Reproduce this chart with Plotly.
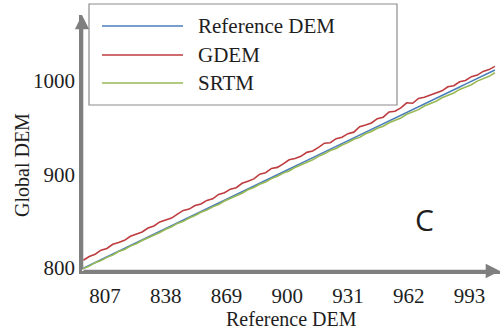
import plotly.graph_objects as go

# Reference DEM elevations along the sampled profile (m)
ref_x = [796, 799, 802, 805, 808, 811, 814, 817, 820, 823,
         826, 829, 832, 835, 838, 841, 844, 847, 850, 853,
         856, 859, 862, 865, 868, 871, 874, 877, 880, 883,
         886, 889, 892, 895, 898, 901, 904, 907, 910, 913,
         916, 919, 922, 925, 928, 931, 934, 937, 940, 943,
         946, 949, 952, 955, 958, 961, 964, 967, 970, 973,
         976, 979, 982, 985, 988, 991, 994, 997, 1000, 1003, 1006]

ref_dem = [799.8, 802.8, 805.9, 808.9, 811.9, 814.9, 818.0, 821.0, 824.0, 827.1,
           830.1, 833.1, 836.1, 839.2, 842.2, 845.2, 848.3, 851.3, 854.3, 857.3,
           860.4, 863.4, 866.4, 869.5, 872.5, 875.5, 878.5, 881.6, 884.6, 887.6,
           890.7, 893.7, 896.7, 899.7, 902.8, 905.8, 908.8, 911.9, 914.9, 917.9,
           920.9, 924.0, 927.0, 930.0, 933.1, 936.1, 939.1, 942.1, 945.2, 948.2,
           951.2, 954.3, 957.3, 960.3, 963.3, 966.4, 969.4, 972.4, 975.5, 978.5,
           981.5, 984.5, 987.6, 990.6, 993.6, 996.7, 999.7, 1002.7, 1005.7, 1008.8, 1011.8]

gdem = [808.3, 812.3, 814.7, 819.1, 820.9, 825.4, 827.4, 829.6, 834.0, 836.3,
        838.5, 842.7, 844.9, 849.3, 851.2, 853.4, 857.7, 861.6, 863.0, 866.8,
        868.5, 872.3, 874.0, 878.7, 880.5, 884.3, 885.9, 890.6, 892.9, 895.3,
        900.3, 901.9, 906.5, 907.6, 911.4, 915.8, 917.2, 919.4, 923.7, 925.1,
        929.0, 933.5, 934.0, 938.3, 939.9, 943.7, 945.3, 951.1, 953.0, 955.1,
        959.7, 961.3, 966.9, 967.6, 971.3, 976.7, 976.2, 981.3, 982.6, 985.0,
        987.5, 989.5, 993.8, 995.0, 999.2, 1000.6, 1004.7, 1006.3, 1010.3, 1012.2, 1015.6]

srtm = [799.5, 802.0, 805.7, 807.9, 811.4, 814.0, 817.6, 819.9, 823.4, 825.9,
        829.4, 832.1, 835.6, 837.9, 841.4, 844.1, 847.7, 849.9, 853.4, 856.1,
        859.7, 862.1, 865.4, 867.9, 871.6, 874.1, 877.4, 879.9, 883.6, 886.1,
        889.5, 891.9, 895.6, 898.1, 901.5, 903.8, 907.6, 910.2, 913.5, 915.8,
        919.4, 922.1, 925.7, 927.8, 931.5, 934.1, 937.6, 939.7, 943.5, 946.0,
        949.4, 951.7, 955.4, 958.0, 960.5, 964.4, 966.9, 969.4, 973.3, 975.8,
        978.3, 982.1, 984.6, 987.2, 991.0, 993.6, 996.1, 999.9, 1002.4, 1005.0, 1008.8]

x_ticks = [807, 838, 869, 900, 931, 962, 993]
y_ticks = [800, 900, 1000]

series_names = ["Reference DEM", "GDEM", "SRTM"]
series_colors = ["#4a7ebb", "#be3c3f", "#98b954"]
series_values = [ref_dem, gdem, srtm]

SERIF = "Liberation Serif"
AXIS_GRAY = "#7f7f7f"
TEXT = "#1e1e1e"

W, H = 504, 334
L, R, T, B = 82, 4, 15, 63
PW, PH = W - L - R, H - T - B


def px(xpix):
    return (xpix - L) / PW


def py(ypix):
    return (H - B - ypix) / PH


fig = go.Figure()
for name, color, vals in zip(series_names, series_colors, series_values):
    fig.add_trace(go.Scatter(x=ref_x, y=vals, mode="lines", name=name,
                             line=dict(color=color, width=1.6), showlegend=False))

shapes = []
annotations = []

# legend box drawn in paper space
shapes.append(dict(type="rect", xref="paper", yref="paper",
                   x0=px(89), x1=px(397), y0=py(105), y1=py(4),
                   line=dict(color="#8c8c8c", width=1.2), fillcolor="white", layer="above"))
for i, (name, color) in enumerate(zip(series_names, series_colors)):
    yrow = [26, 55, 83][i]
    shapes.append(dict(type="line", xref="paper", yref="paper",
                       x0=px(102), x1=px(183), y0=py(yrow), y1=py(yrow),
                       line=dict(color=color, width=1.6), layer="above"))
    annotations.append(dict(text=name, xref="paper", yref="paper",
                            x=px(196), y=py(yrow), xanchor="left", yanchor="middle",
                            showarrow=False, font=dict(family=SERIF, size=21, color=TEXT)))

# axis arrows
annotations.append(dict(x=0, y=1, xref="paper", yref="paper", ax=0, ay=PH,
                        axref="pixel", ayref="pixel", showarrow=True, text="",
                        arrowhead=2, arrowsize=1.1, arrowwidth=2.6, arrowcolor=AXIS_GRAY))
annotations.append(dict(x=1, y=0, xref="paper", yref="paper", ax=-PW, ay=0,
                        axref="pixel", ayref="pixel", showarrow=True, text="",
                        arrowhead=2, arrowsize=1.1, arrowwidth=2.6, arrowcolor=AXIS_GRAY))

# axis titles
annotations.append(dict(text="Reference DEM", xref="paper", yref="paper",
                        x=px(291), y=py(319), xanchor="center", yanchor="middle",
                        showarrow=False, font=dict(family=SERIF, size=20, color=TEXT)))
annotations.append(dict(text="Global DEM", xref="paper", yref="paper",
                        x=px(22), y=py(165), xanchor="center", yanchor="middle",
                        showarrow=False, textangle=-90,
                        font=dict(family=SERIF, size=20, color=TEXT)))

# panel letter
annotations.append(dict(text="C", xref="paper", yref="paper",
                        x=px(424), y=py(219), xanchor="center", yanchor="middle",
                        showarrow=False, font=dict(family="Open Sans", size=30, color=TEXT)))

fig.update_layout(
    width=W, height=H,
    margin=dict(l=L, r=R, t=T, b=B, pad=0),
    paper_bgcolor="white", plot_bgcolor="white",
    showlegend=False,
    shapes=shapes,
    annotations=annotations,
    xaxis=dict(range=[795.3, 1008.6], tickvals=x_ticks, showgrid=False, zeroline=False,
               showline=True, linecolor=AXIS_GRAY, linewidth=2.6, ticks="",
               ticklabelstandoff=4,
               tickfont=dict(family=SERIF, size=21, color=TEXT)),
    yaxis=dict(range=[796.8, 1070.6], tickvals=y_ticks, showgrid=False, zeroline=False,
               showline=True, linecolor=AXIS_GRAY, linewidth=2.6, ticks="",
               ticklabelstandoff=0,
               tickfont=dict(family=SERIF, size=21, color=TEXT)),
)

fig.write_html("out.html")
